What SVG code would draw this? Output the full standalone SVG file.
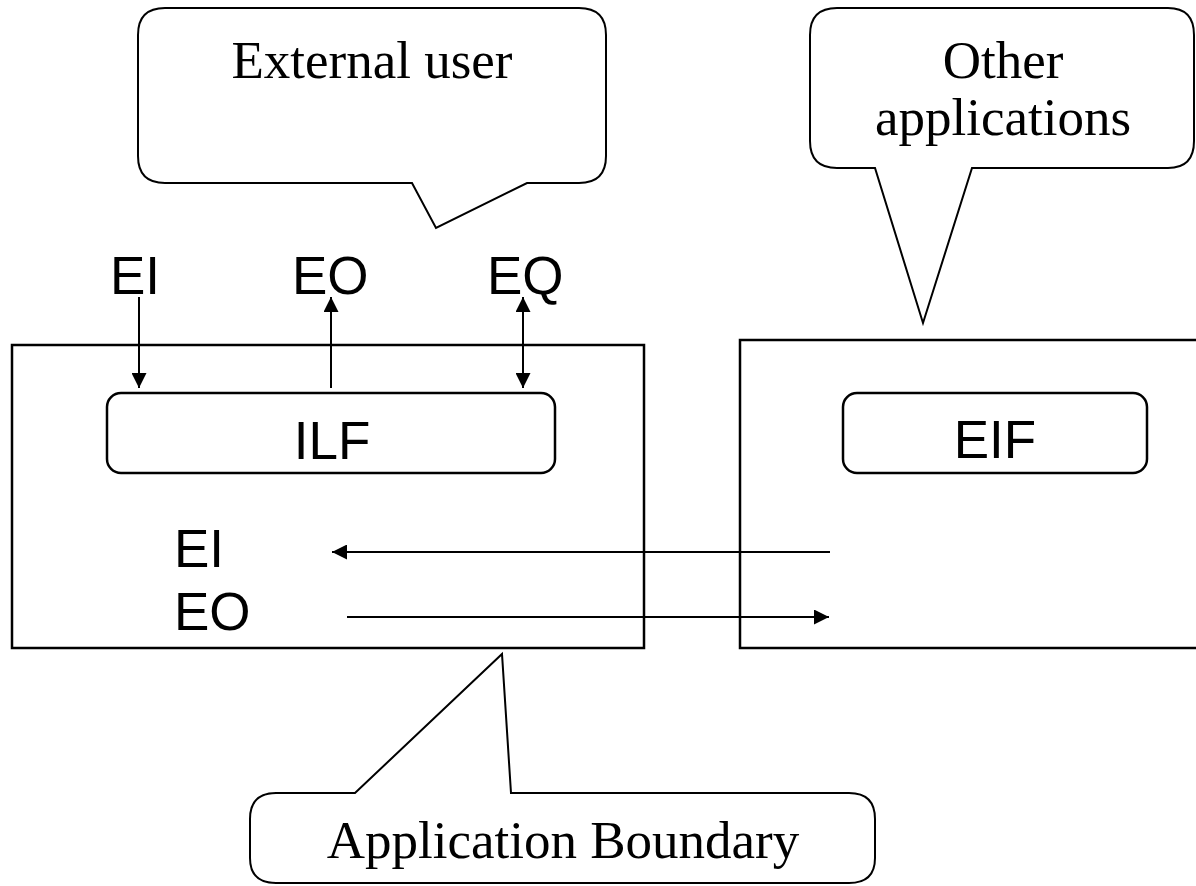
<svg xmlns="http://www.w3.org/2000/svg" width="1196" height="886" viewBox="0 0 1196 886">
  <style>
    .shape { fill: #fff; stroke: #000; stroke-width: 2.5; }
    .bubble { fill: #fff; stroke: #000; stroke-width: 2; stroke-linejoin: miter; }
    .serif { font-family: "Liberation Serif", "Times New Roman", serif; font-size: 53px; fill: #000; text-anchor: middle; }
    .sans { font-family: "Liberation Sans", Arial, sans-serif; font-size: 53px; fill: #000; }
    .mid { text-anchor: middle; }
    .conn { stroke: #000; stroke-width: 2; fill: none; }
  </style>
  <defs>
    <marker id="arrow" viewBox="0 0 15 15" refX="15" refY="7.5" markerWidth="15" markerHeight="15" markerUnits="userSpaceOnUse" orient="auto-start-reverse">
      <path d="M0,0 L15,7.5 L0,15 Z" fill="#000"/>
    </marker>
  </defs>
  <rect width="1196" height="886" fill="#fff"/>

  <!-- application boundary box -->
  <g id="application">
    <rect class="shape" x="12" y="345" width="632" height="303"/>
  </g>

  <!-- other application box, runs past the right edge -->
  <g id="other-application">
    <rect class="shape" x="740" y="340" width="480" height="308"/>
  </g>

  <g id="ilf">
    <rect class="shape" x="107" y="393" width="448" height="80" rx="14"/>
    <text class="sans mid" x="332" y="459">ILF</text>
  </g>

  <g id="eif">
    <rect class="shape" x="843" y="393" width="304" height="80" rx="14"/>
    <text class="sans mid" x="995" y="458">EIF</text>
  </g>

  <g id="labels">
    <text class="sans" x="110" y="294">EI</text>
    <text class="sans" x="292" y="294">EO</text>
    <text class="sans" x="487" y="294">EQ</text>
    <text class="sans" x="174" y="567">EI</text>
    <text class="sans" x="174" y="630">EO</text>
  </g>

  <!-- callouts -->
  <g id="external-user">
    <path class="bubble" d="M165,8 H579 Q606,8 606,35 V156 Q606,183 579,183 H527 L436,228 L412,183 H165 Q138,183 138,156 V35 Q138,8 165,8 Z"/>
    <text class="serif" x="372" y="78">External user</text>
  </g>

  <g id="other-applications">
    <path class="bubble" d="M837,8 H1168 Q1194,8 1194,35 V141 Q1194,168 1168,168 H972 L923,323 L875,168 H837 Q810,168 810,141 V35 Q810,8 837,8 Z"/>
    <text class="serif" x="1003" y="78">Other</text>
    <text class="serif" x="1003" y="135">applications</text>
  </g>

  <g id="application-boundary">
    <path class="bubble" d="M276,793 H355 L502,654 L511,793 H849 Q875,793 875,819 V858 Q875,883 849,883 H276 Q250,883 250,858 V819 Q250,793 276,793 Z"/>
    <text class="serif" x="563" y="858">Application Boundary</text>
  </g>

  <g id="connectors">
    <line class="conn" x1="139" y1="297" x2="139" y2="388" marker-end="url(#arrow)"/>
    <line class="conn" x1="331" y1="388" x2="331" y2="297" marker-end="url(#arrow)"/>
    <line class="conn" x1="523" y1="297" x2="523" y2="388" marker-start="url(#arrow)" marker-end="url(#arrow)"/>
    <line class="conn" x1="830" y1="552" x2="332" y2="552" marker-end="url(#arrow)"/>
    <line class="conn" x1="347" y1="617" x2="829" y2="617" marker-end="url(#arrow)"/>
  </g>
</svg>
